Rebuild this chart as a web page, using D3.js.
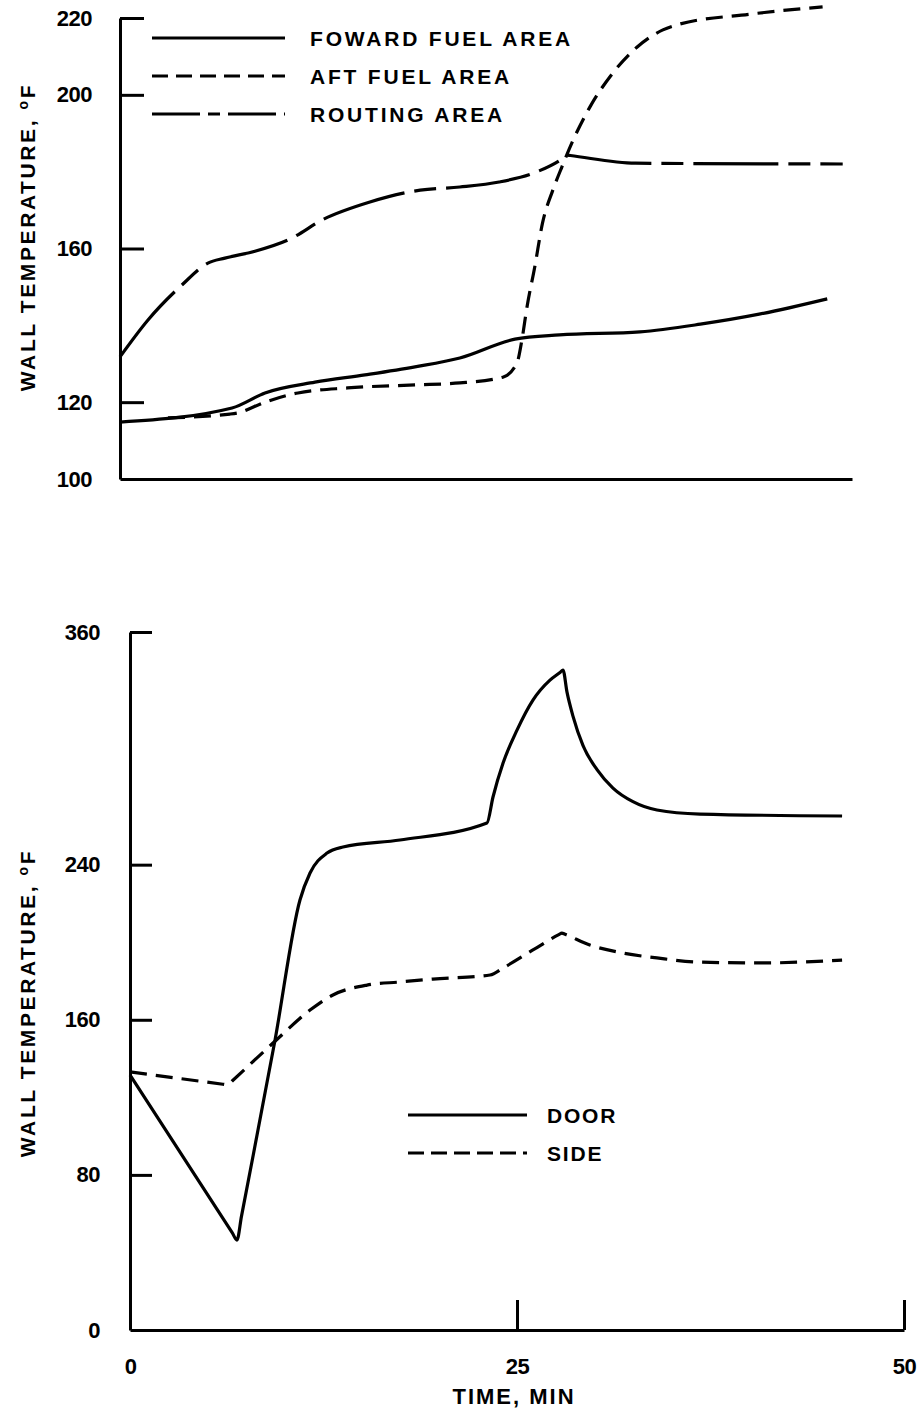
<!DOCTYPE html>
<html>
<head>
<meta charset="utf-8">
<script src="https://cdn.jsdelivr.net/npm/d3@7"></script>
<style>
  body { margin: 0; background: #fff; }
  svg text { font-family: "Liberation Sans", Arial, sans-serif; font-weight: bold; fill: #000; }
</style>
</head>
<body>
<div id="chart"></div>
<script>
    // -------------------------------
    // Data
    // -------------------------------
    // top panel: fuel areas
    const fwdTime = [0, 7.24, 9.37, 12.6, 15.83, 19.06, 21.96, 25.52, 28.4, 33.6, 37.5, 41.3, 45.7];
    const fwdTemp = [114.8, 118.5, 122.4, 125.2, 127.1, 129.2, 131.5, 136.4, 137.5, 138.3, 140.3, 142.9, 146.9];

    const aftTime = [3.1, 7.1, 7.6, 9.37, 11.5, 14.7, 19.06, 21.96, 24.74, 25.65, 25.97, 26.3, 26.8, 27.3, 27.97, 28.55, 29.2, 30.36, 31.85, 33.4, 35.08, 35.98, 40.7, 45.4];
    const aftTemp = [115.9, 116.9, 117.2, 120.0, 122.4, 123.7, 124.5, 125.0, 126.5, 130.2, 136.2, 144.8, 155.2, 166.6, 175.2, 181.2, 187.5, 196.8, 205.7, 212.4, 216.9, 218.2, 221.0, 222.9];

    const routeTime = [0, 1.81, 4.0, 5.68, 6.78, 8.72, 11.1, 13.05, 16.15, 19.4, 21.96, 24.5, 26.9, 28.7, 28.9, 29.1, 33.3, 46.7];
    const routeTemp = [131.8, 141.4, 150.5, 156.2, 157.5, 159.3, 162.7, 167.4, 172.1, 175.2, 176.0, 177.3, 179.9, 183.7, 184.3, 184.2, 182.2, 182.0];

    // bottom panel: door / side
    const doorTime = [0, 6.6, 6.91, 7.2, 9.37, 10.98, 11.63, 12.73, 13.76, 17.44, 23.06, 23.45, 24.1, 25.0, 26.03, 27.13, 27.8, 27.97, 28.23, 28.62, 29.26, 30.17, 31.2, 32.49, 34.04, 36.82, 46.0];
    const doorTemp = [131.5, 50.2, 46.4, 58.6, 149.6, 221.8, 235.7, 246.0, 249.1, 252.7, 261.5, 274.9, 292.4, 309.4, 324.9, 335.2, 339.3, 340.4, 329.0, 316.5, 301.5, 289.0, 279.5, 272.5, 268.2, 266.1, 265.1];

    const sideTime = [0, 6.0, 6.33, 6.6, 9.24, 11.63, 13.11, 15.31, 17.44, 19.57, 23.26, 24.1, 26.03, 27.7, 27.9, 28.1, 29.7, 31.85, 34.04, 36.6, 40.7, 46.0];
    const sideTemp = [133.1, 126.75, 126.4, 128.4, 148.0, 165.0, 172.8, 177.9, 179.5, 181.0, 183.1, 186.7, 196.0, 203.9, 204.7, 204.1, 198.6, 194.4, 191.9, 189.8, 189.3, 190.8];

    // tick labels
    const topTicks = [100, 120, 160, 200, 220];
    const botTicks = [0, 80, 160, 240, 360];
    const timeTicks = [0, 25, 50];

    const topLegend = ["FOWARD FUEL AREA", "AFT FUEL AREA", "ROUTING AREA"];
    const botLegend = ["DOOR", "SIDE"];

    // -------------------------------
    // SVG setup
    // -------------------------------
    const W = 921, H = 1414;
    const svg = d3.select("#chart").append("svg")
        .attr("width", W)
        .attr("height", H);

    const zip = (xs, ys) => xs.map((t, i) => [t, ys[i]]);

    // scales
    const xTop = d3.scaleLinear().domain([0, 47.3]).range([120, 852]);
    const yTop = d3.scaleLinear().domain([100, 220]).range([479, 18]);
    const xBot = d3.scaleLinear().domain([0, 50]).range([130, 904]);
    const yBot = d3.scaleLinear().domain([0, 360]).range([1330, 632]);

    function styleAxis(g) {
      g.select(".domain").attr("stroke", "#000").attr("stroke-width", 3);
      g.selectAll(".tick line").attr("stroke", "#000").attr("stroke-width", 3);
      g.selectAll(".tick text")
        .style("font-family", '"Liberation Sans", Arial, sans-serif')
        .style("font-weight", "bold")
        .style("font-size", "22px")
        .style("letter-spacing", "-0.5px")
        .attr("fill", "#000");
    }

    // -------------------------------
    // Top panel axes
    // -------------------------------
    svg.append("g")
        .attr("transform", `translate(${xTop(0)},0)`)
        .call(d3.axisLeft(yTop).tickValues(topTicks).tickSizeInner(-24).tickSizeOuter(0).tickPadding(28))
        .call(styleAxis)
        .call(g => g.selectAll(".tick").filter(d => d === 100).select("line").remove());

    svg.append("g")
        .attr("transform", `translate(0,${yTop(100)})`)
        .call(d3.axisBottom(xTop).tickValues([]).tickSizeOuter(0))
        .call(styleAxis);

    // -------------------------------
    // Bottom panel axes
    // -------------------------------
    svg.append("g")
        .attr("transform", `translate(${xBot(0)},0)`)
        .call(d3.axisLeft(yBot).tickValues(botTicks).tickSizeInner(-22).tickSizeOuter(0).tickPadding(30))
        .call(styleAxis)
        .call(g => g.selectAll(".tick").filter(d => d === 0).select("line").remove());

    svg.append("g")
        .attr("transform", `translate(0,${yBot(0)})`)
        .call(d3.axisBottom(xBot).tickValues(timeTicks).tickSizeInner(-30).tickSizeOuter(0).tickPadding(28))
        .call(styleAxis)
        .call(g => g.selectAll(".tick").filter(d => d === 0).select("line").remove());

    // axis titles
    function yTitle(cy) {
      const t = svg.append("text")
        .attr("transform", `translate(35,${cy}) rotate(-90)`)
        .attr("text-anchor", "middle")
        .style("font-size", "21px")
        .style("letter-spacing", "2.6px")
        .text("WALL TEMPERATURE, ");
      t.append("tspan").attr("dy", -7).style("font-size", "14px").text("o");
      t.append("tspan").attr("dy", 7).text("F");
    }
    yTitle(237);
    yTitle(1003);

    svg.append("text")
        .attr("x", xBot(25) - 3)
        .attr("y", 1404)
        .attr("text-anchor", "middle")
        .style("font-size", "22px")
        .style("letter-spacing", "2px")
        .text("TIME, MIN");

    // -------------------------------
    // Lines
    // -------------------------------
    const lineTop = d3.line().x(d => xTop(d[0])).y(d => yTop(d[1])).curve(d3.curveMonotoneX);
    const lineBot = d3.line().x(d => xBot(d[0])).y(d => yBot(d[1])).curve(d3.curveMonotoneX);

    const solid = null, dashed = "17,9", routeDash = "85,10,22,10";

    function drawLine(gen, data, dash) {
      svg.append("path")
        .datum(data)
        .attr("d", gen)
        .attr("fill", "none")
        .attr("stroke", "#000")
        .attr("stroke-width", 3.2)
        .attr("stroke-linejoin", "round")
        .attr("stroke-dasharray", dash);
    }

    drawLine(lineTop, zip(fwdTime, fwdTemp), solid);
    drawLine(lineTop, zip(aftTime, aftTemp), dashed);
    drawLine(lineTop, zip(routeTime, routeTemp), routeDash);

    drawLine(lineBot, zip(doorTime, doorTemp), solid);
    drawLine(lineBot, zip(sideTime, sideTemp), dashed);

    // -------------------------------
    // Legends
    // -------------------------------
    const topDashes = [null, "16,8", "48,8,12,8"];
    const topLeg = svg.append("g").attr("transform", "translate(152,38)");
    topLegend.forEach((label, i) => {
      topLeg.append("line")
        .attr("x1", 0).attr("x2", 133)
        .attr("y1", i * 38).attr("y2", i * 38)
        .attr("stroke", "#000").attr("stroke-width", 3)
        .attr("stroke-dasharray", topDashes[i]);
      topLeg.append("text")
        .attr("x", 158).attr("y", i * 38 + 8)
        .style("font-size", "21px")
        .style("letter-spacing", "2.8px")
        .text(label);
    });

    const botDashes = [null, "16,7"];
    const botLeg = svg.append("g").attr("transform", "translate(408,1115)");
    botLegend.forEach((label, i) => {
      botLeg.append("line")
        .attr("x1", 0).attr("x2", 119)
        .attr("y1", i * 38).attr("y2", i * 38)
        .attr("stroke", "#000").attr("stroke-width", 3)
        .attr("stroke-dasharray", botDashes[i]);
      botLeg.append("text")
        .attr("x", 139).attr("y", i * 38 + 8)
        .style("font-size", "21px")
        .style("letter-spacing", "1.8px")
        .text(label);
    });
</script>
</body>
</html>
